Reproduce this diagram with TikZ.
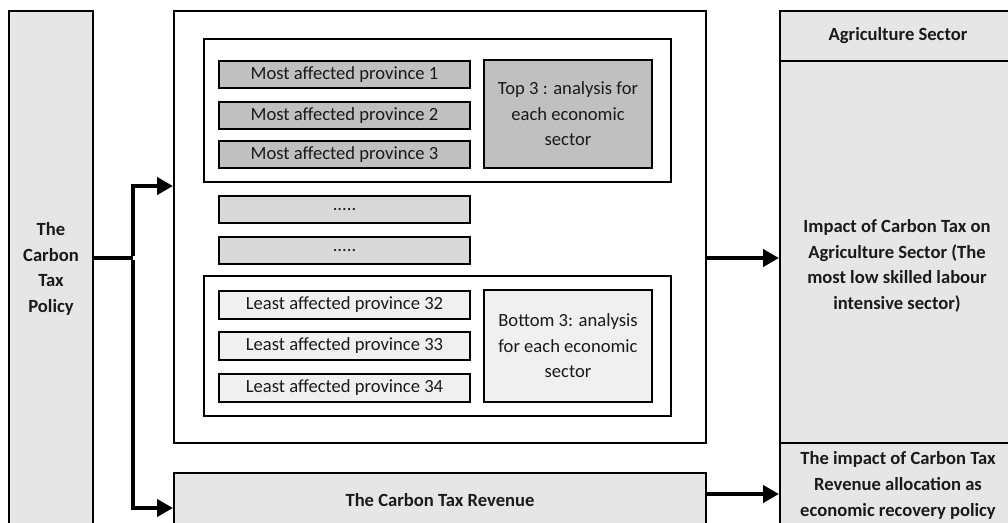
\documentclass[tikz,border=0pt]{standalone}
\usepackage{fontspec}
\setmainfont{Carlito}
\usetikzlibrary{arrows.meta}
\definecolor{lightfill}{HTML}{E6E6E6}
\definecolor{darkfill}{HTML}{C0C0C0}
\definecolor{midfill}{HTML}{D9D9D9}
\definecolor{palefill}{HTML}{F0F0F0}
\definecolor{txt}{HTML}{1A1A1A}
\begin{document}
\begin{tikzpicture}[x=1pt,y=-1pt,
  box/.style={draw=black, line width=2pt, rectangle, inner sep=0pt, anchor=north west,
    align=center, text=txt, font=\fontsize{18.6}{25.6}\selectfont},
  bbox/.style={box, font=\fontsize{18.6}{25.6}\selectfont\bfseries},
  lbl/.style={inner sep=0pt, align=center, text=txt, font=\fontsize{18.6}{25.6}\selectfont\bfseries},
  conn/.style={line width=4.5pt, line join=miter},
  arr/.style={conn, -{Triangle[length=16pt,width=17pt]}}
]
\useasboundingbox (0,0) rectangle (1008,522);
\clip (0,0) rectangle (1008,522);
% left policy box
\node[bbox, fill=lightfill, minimum width=84pt, minimum height=516pt] (policy) at (8,10) {The\\Carbon\\Tax\\Policy};
% middle frame
\node[box, fill=white, minimum width=532pt, minimum height=432pt] (frame) at (173,10) {};
\node[box, fill=white, minimum width=467pt, minimum height=143pt] (topgrp) at (203,38) {};
\node[box, fill=white, minimum width=467pt, minimum height=140pt] (botgrp) at (203,275) {};
\node[box, fill=darkfill, minimum width=251pt, minimum height=27pt] (m1) at (218,60) {Most affected province 1};
\node[box, fill=darkfill, minimum width=251pt, minimum height=27pt] (m2) at (218,101) {Most affected province 2};
\node[box, fill=darkfill, minimum width=251pt, minimum height=27pt] (m3) at (218,140) {Most affected province 3};
\node[box, fill=darkfill, minimum width=168pt, minimum height=108pt] (top3) at (483,59) {Top 3 : analysis for\\each economic\\sector};
\node[box, fill=midfill, minimum width=251pt, minimum height=27pt] (d1) at (218,195) {.....};
\node[box, fill=midfill, minimum width=251pt, minimum height=27pt] (d2) at (218,236) {.....};
\node[box, fill=palefill, minimum width=251pt, minimum height=28pt] (l1) at (218,290) {Least affected province 32};
\node[box, fill=palefill, minimum width=251pt, minimum height=28pt] (l2) at (218,331) {Least affected province 33};
\node[box, fill=palefill, minimum width=251pt, minimum height=28pt] (l3) at (218,373) {Least affected province 34};
\node[box, fill=palefill, minimum width=168pt, minimum height=112pt] (bot3) at (483,289) {Bottom 3: analysis\\for each economic\\sector};
% revenue
\node[bbox, fill=lightfill, minimum width=532pt, minimum height=54pt] (rev) at (173,472) {The Carbon Tax Revenue};
% right panel
\node[bbox, fill=lightfill, minimum width=236pt, minimum height=50pt] (agri) at (779,10) {Agriculture Sector};
\node[box, fill=lightfill, minimum width=236pt, minimum height=382pt] (impact) at (779,60) {};
\node[lbl] (impacttxt) at (897,266) {Impact of Carbon Tax on\\Agriculture Sector (The\\most low skilled labour\\intensive sector)};
\node[bbox, fill=lightfill, minimum width=236pt, minimum height=85pt] (recov) at (779,442) {The impact of Carbon Tax\\Revenue allocation as\\economic recovery policy};
% connectors
\coordinate (split) at (133,258);
\draw[conn] (policy.east |- split) -- (split);
\draw[arr] ([yshift=2.25pt]split) |- ([yshift=41pt]frame.west);
\draw[arr] ([yshift=-2.25pt]split) |- ([yshift=-8pt]rev.west);
\draw[arr] ([yshift=-31pt]frame.east) -- ([yshift=-31pt]frame.east -| impact.west);
\draw[arr] ([yshift=6pt]rev.east) -- ([yshift=6pt]rev.east -| recov.west);
\end{tikzpicture}
\end{document}
